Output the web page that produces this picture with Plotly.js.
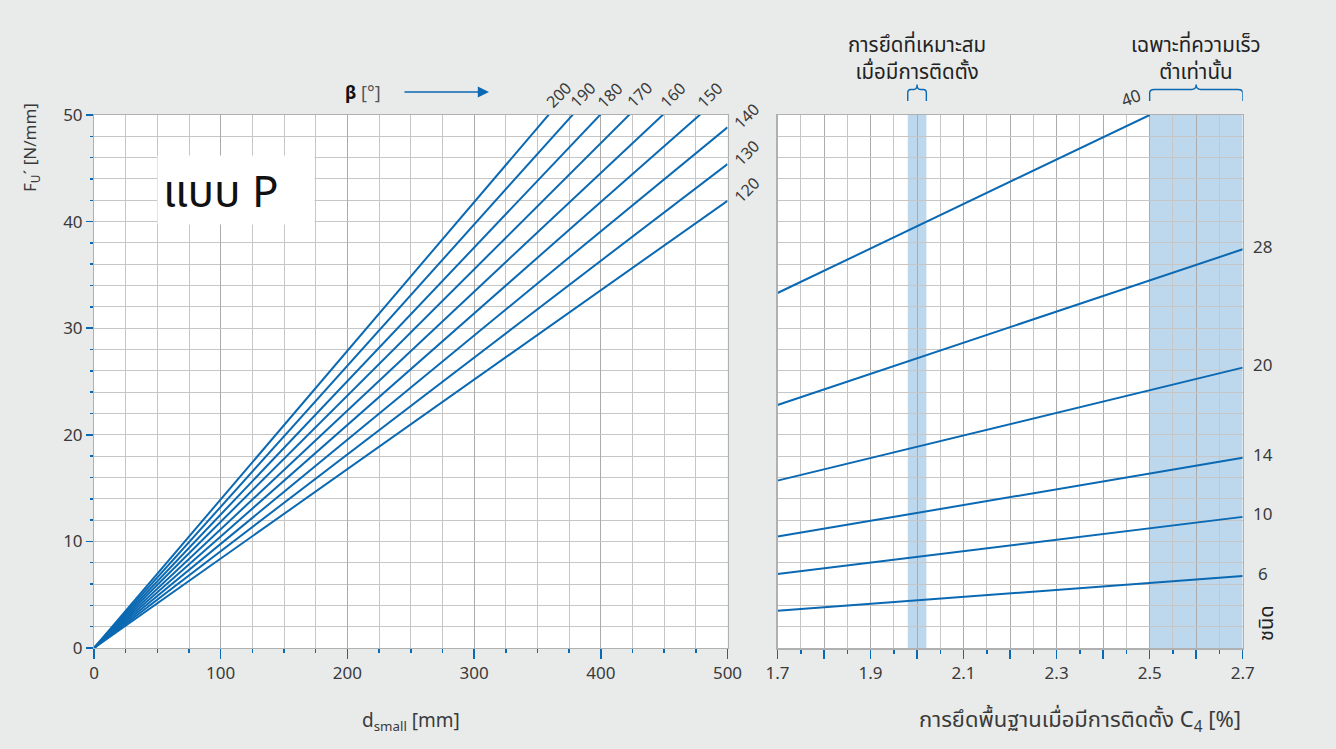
<!DOCTYPE html>
<html>
<head>
<meta charset="utf-8">
<script src="https://cdn.plot.ly/plotly-3.0.1.min.js"></script>
<style>html,body{margin:0;padding:0;background:#e9ebea;}#chart{width:1336px;height:749px;}</style>
</head>
<body>
<div id="chart"></div>
<script>
// ---- data ----
const betaLabels = ['200','190','180','170','160','150','140','130','120'];
const forceAt500 = [69.7, 66.2, 62.6, 59.2, 55.7, 52.3, 48.85, 45.4, 41.95];
const dRange = [0, 500];
const forceRange = [0, 50];

const typeLabels = ['40','28','20','14','10','6'];
const c4Start = [1.7, 1.7, 1.7, 1.7, 1.7, 1.7];
const c4End = [2.5, 2.7, 2.7, 2.7, 2.7, 2.7];
const forceStart = [33.3, 22.8, 15.7, 10.45, 6.95, 3.5];
const forceEnd = [50, 37.4, 26.3, 17.85, 12.3, 6.75];
const c4Range = [1.7, 2.7];
const bandRanges = [[1.98, 2.02], [2.5, 2.7]];

// ---- style ----
const W = 1336, H = 749;
const BLUE = '#0a69b2';
const TXT = '#3a3a3a';
const FONT = "'Noto Sans', 'Noto Sans Thai', 'Open Sans', sans-serif";
const px = v => v / W;
const py = v => 1 - v / H;

const traces = [];
betaLabels.forEach((b, i) => {
  traces.push({x: dRange, y: [0, forceAt500[i]], xaxis: 'x', yaxis: 'y', mode: 'lines',
    line: {color: BLUE, width: 2}, hoverinfo: 'skip', showlegend: false});
});
typeLabels.forEach((t, i) => {
  traces.push({x: [c4Start[i], c4End[i]], y: [forceStart[i], forceEnd[i]], xaxis: 'x2', yaxis: 'y2', mode: 'lines',
    line: {color: BLUE, width: 2}, hoverinfo: 'skip', showlegend: false});
});

const annotations = [];
// beta labels
betaLabels.forEach((b, i) => {
  const f = forceAt500[i];
  if (f > forceRange[1]) {
    annotations.push({x: dRange[1] * forceRange[1] / f, y: forceRange[1], xref: 'x', yref: 'y', text: b,
      showarrow: false, textangle: -45, xanchor: 'center', yanchor: 'middle', xshift: 10, yshift: 20,
      font: {family: FONT, size: 16, color: TXT}});
  } else {
    annotations.push({x: dRange[1], y: f, xref: 'x', yref: 'y', text: b,
      showarrow: false, textangle: -45, xanchor: 'center', yanchor: 'middle', xshift: 19, yshift: 11,
      font: {family: FONT, size: 16, color: TXT}});
  }
});
// type labels
typeLabels.forEach((t, i) => {
  if (forceEnd[i] >= forceRange[1]) {
    annotations.push({x: c4End[i], y: forceEnd[i], xref: 'x2', yref: 'y2', text: t,
      showarrow: false, textangle: -20, xanchor: 'center', yanchor: 'middle', xshift: -19, yshift: 18,
      font: {family: FONT, size: 17, color: TXT}});
  } else {
    annotations.push({x: c4End[i], y: forceEnd[i], xref: 'x2', yref: 'y2', text: t,
      showarrow: false, xanchor: 'center', yanchor: 'middle', xshift: 20, yshift: 3,
      font: {family: FONT, size: 17, color: TXT}});
  }
});
annotations.push(
  {x: px(1265), y: py(623), xref: 'paper', yref: 'paper', text: 'ชนิด', textangle: -90, showarrow: false,
   xanchor: 'center', yanchor: 'middle', font: {family: FONT, size: 20, color: '#222'}},
  {x: 112, y: 43, xref: 'x', yref: 'y', text: 'แบบ P', showarrow: false, bgcolor: '#ffffff',
   width: 146, height: 58, align: 'left', borderpad: 5, xanchor: 'center', yanchor: 'middle',
   font: {family: FONT, size: 44, color: '#111111'}},
  {x: px(30), y: py(148), xref: 'paper', yref: 'paper', text: 'F<sub>U</sub>´ [N/mm]', textangle: -90,
   showarrow: false, xanchor: 'center', yanchor: 'middle', font: {family: FONT, size: 17, color: TXT}},
  {x: px(411), y: py(721), xref: 'paper', yref: 'paper', text: 'd<sub>small</sub> [mm]', showarrow: false,
   xanchor: 'center', yanchor: 'middle', font: {family: FONT, size: 19, color: TXT}},
  {x: px(1243), y: py(720), xref: 'paper', yref: 'paper', text: 'การยึดพื้นฐานเมื่อมีการติดตั้ง C<sub>4</sub> [%]',
   showarrow: false, xanchor: 'right', yanchor: 'middle', font: {family: FONT, size: 22, color: TXT}},
  {x: px(363), y: py(92), xref: 'paper', yref: 'paper', text: '<b><span style="color:#111">β</span></b> [°]',
   showarrow: false, xanchor: 'center', yanchor: 'middle', font: {family: FONT, size: 18, color: '#555'}},
  {x: px(489), y: py(92), xref: 'paper', yref: 'paper', text: '', showarrow: true, ax: -86, ay: 0,
   arrowcolor: BLUE, arrowhead: 2, arrowsize: 1.4, arrowwidth: 1.6},
  {x: 2.0, y: py(57), xref: 'x2', yref: 'paper', text: 'การยึดที่เหมาะสม<br>เมื่อมีการติดตั้ง', showarrow: false,
   xanchor: 'center', yanchor: 'middle', font: {family: FONT, size: 20.5, color: '#222'}},
  {x: 2.6, y: py(57), xref: 'x2', yref: 'paper', text: 'เฉพาะที่ความเร็ว<br>ตำเท่านั้น', showarrow: false,
   xanchor: 'center', yanchor: 'middle', font: {family: FONT, size: 20.5, color: '#222'}}
);

const shapes = [];
bandRanges.forEach(r => {
  shapes.push({type: 'rect', xref: 'x2', yref: 'y2', x0: r[0], x1: r[1], y0: forceRange[0], y1: forceRange[1],
    fillcolor: '#bdd8ed', line: {width: 0}, layer: 'below'});
  // brace above the band
  const x0 = r[0], x1 = r[1], xm = (x0 + x1) / 2, w = x1 - x0;
  const d = Math.min(0.01, w / 6);
  const yb = py(101), yt = py(89.5), yc = py(93), yp = py(84.5);
  const path = `M ${x0},${yb} L ${x0},${yc} Q ${x0},${yt} ${x0 + d},${yt} L ${xm - d},${yt} Q ${xm},${yt} ${xm},${yp} ` +
               `Q ${xm},${yt} ${xm + d},${yt} L ${x1 - d},${yt} Q ${x1},${yt} ${x1},${yc} L ${x1},${yb}`;
  shapes.push({type: 'path', xref: 'x2', yref: 'paper', path: path, line: {color: BLUE, width: 1.4}, layer: 'above'});
});

const GRID = '#c6c6c6', GRIDMAJ = '#ababab', AXL = '#b0b0b0';
const tickFont = {family: FONT, size: 17, color: TXT};
const layout = {
  width: W, height: H,
  paper_bgcolor: '#e9ebea', plot_bgcolor: '#ffffff',
  margin: {l: 0, r: 0, t: 0, b: 0},
  showlegend: false,
  xaxis: {domain: [px(94), px(727.5)], range: dRange, dtick: 100, tick0: 0, ticks: 'outside', ticklen: 10,
    tickcolor: BLUE, tickwidth: 1.5, gridcolor: GRIDMAJ, gridwidth: 1, zeroline: false, showline: true, mirror: true,
    linecolor: AXL, linewidth: 1, tickfont: tickFont, fixedrange: true,
    minor: {dtick: 25, tick0: 0, ticks: 'outside', ticklen: 4, tickcolor: BLUE, tickwidth: 1.5, showgrid: true, gridcolor: GRID}},
  yaxis: {domain: [py(648), py(115)], range: forceRange, dtick: 10, ticks: 'outside', ticklen: 7,
    tickcolor: BLUE, tickwidth: 1.5, gridcolor: GRID, zeroline: false, showline: true, mirror: true,
    linecolor: AXL, linewidth: 1, tickfont: tickFont, fixedrange: true,
    minor: {dtick: 2, tick0: 0, ticks: 'outside', ticklen: 3, tickcolor: BLUE, tickwidth: 1.5, showgrid: true, gridcolor: GRID}},
  xaxis2: {domain: [px(777.5), px(1242.7)], range: c4Range, tickmode: 'linear', tick0: 1.7, dtick: 0.1, ticklabelstep: 2,
    tickformat: '.1f',
    ticks: 'outside', ticklen: 9, tickcolor: BLUE, tickwidth: 1.5, gridcolor: GRIDMAJ, zeroline: false, showline: true,
    mirror: true, linecolor: AXL, linewidth: 1.5, tickfont: tickFont, anchor: 'y2', fixedrange: true,
    minor: {dtick: 0.05, tick0: 1.7, ticks: 'outside', ticklen: 4, tickcolor: BLUE, tickwidth: 1.5, showgrid: true, gridcolor: GRID}},
  yaxis2: {domain: [py(648), py(115)], range: forceRange, dtick: 2, showticklabels: false, ticks: '',
    gridcolor: GRID, zeroline: false, showline: true, mirror: true, linecolor: AXL, linewidth: 1.5, anchor: 'x2', fixedrange: true},
  annotations: annotations,
  shapes: shapes
};

Plotly.newPlot('chart', traces, layout, {displayModeBar: false, staticPlot: true});
</script>
</body>
</html>
